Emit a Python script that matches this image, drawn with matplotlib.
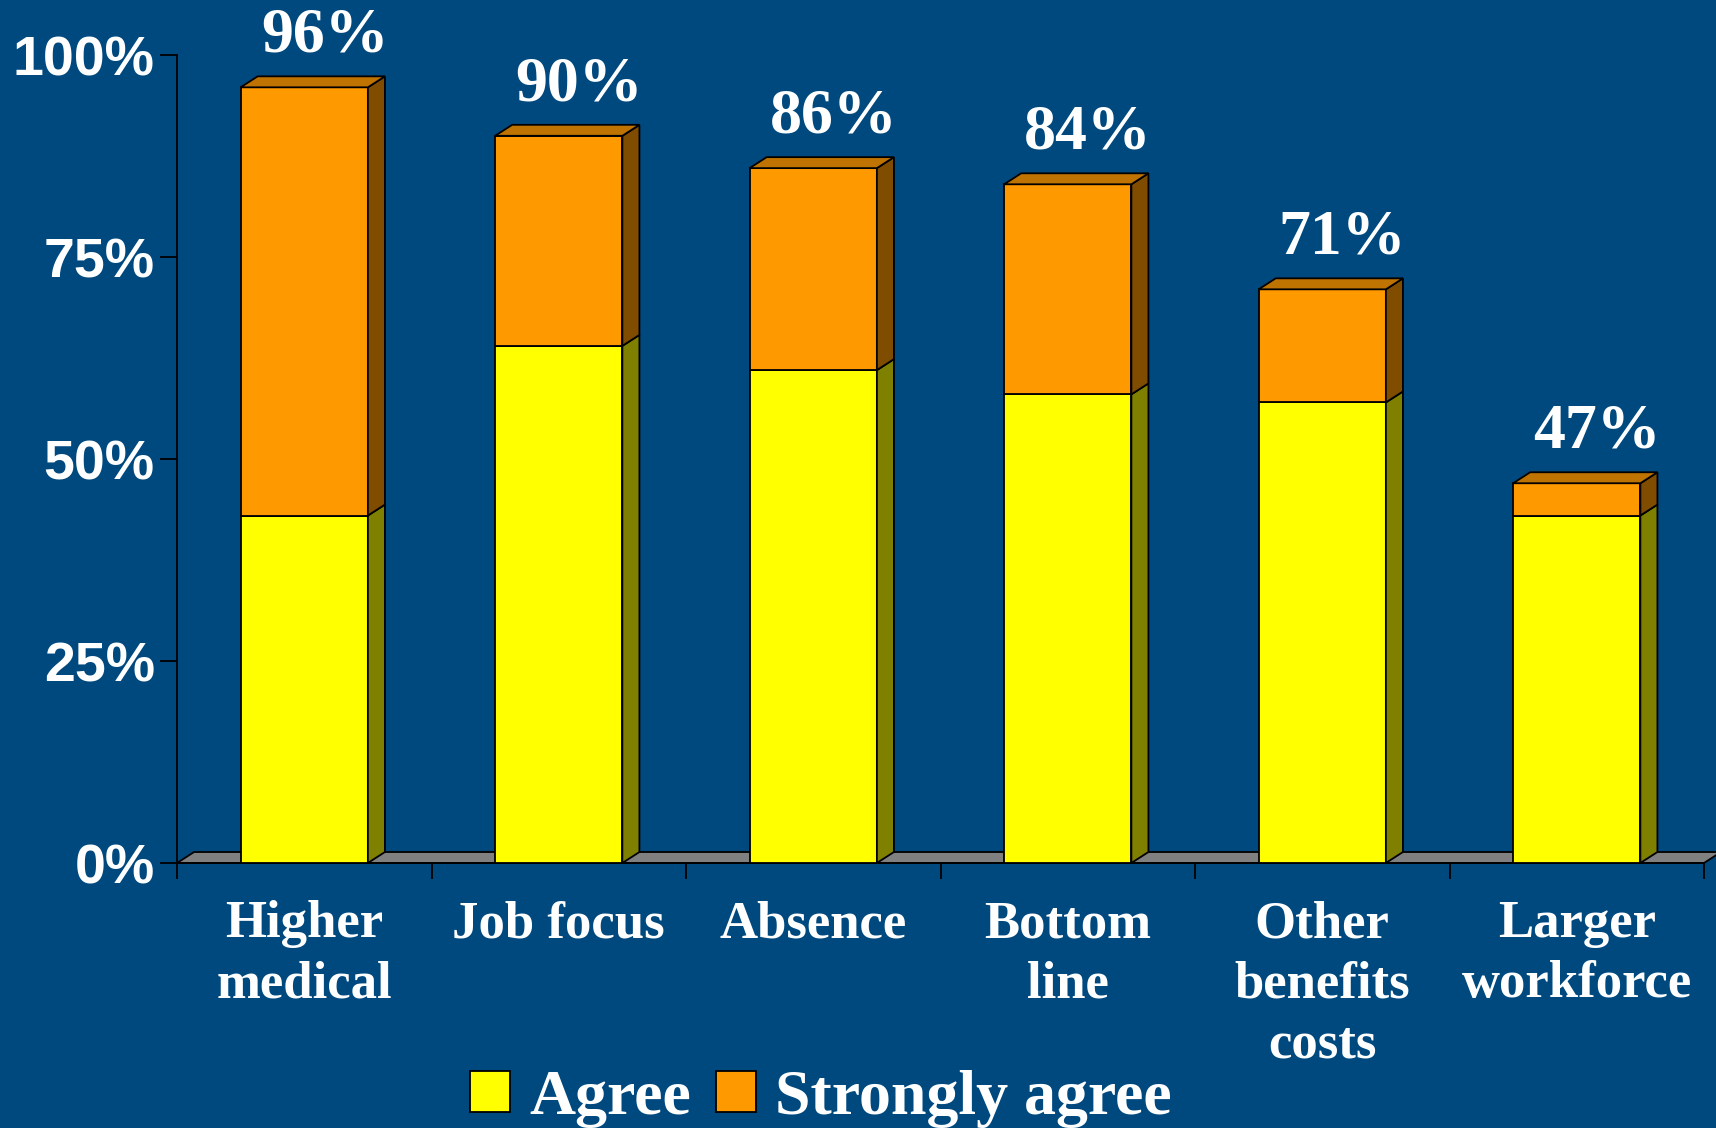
import matplotlib
matplotlib.use("Agg")
import matplotlib.pyplot as plt
from matplotlib.patches import Polygon, Rectangle, Patch

categories = ["Higher\nmedical", "Job focus", "Absence", "Bottom\nline",
              "Other\nbenefits\ncosts", "Larger\nworkforce"]
agree = [43, 64, 61, 58, 57, 43]
strongly_agree = [53, 26, 25, 26, 14, 4]
totals = [96, 90, 86, 84, 71, 47]
y_ticks = [0, 25, 50, 75, 100]
y_tick_labels = ["0%", "25%", "50%", "75%", "100%"]
series_names = ["Agree", "Strongly agree"]

BG = "#00497F"
FRONT = ["#FFFF00", "#FF9900"]
SIDE = ["#808000", "#7F4C00"]
TOP = ["#C0C000", "#BF7300"]
FLOOR = "#808080"

W, H = 1716, 1128
fig = plt.figure(figsize=(W / 100, H / 100), dpi=100, facecolor=BG)
ax = fig.add_axes([177 / W, 1 - 863 / H, (1704 - 177) / W, (863 - 55) / H])
ax.set_facecolor(BG)
ax.set_xlim(0, len(categories))
ax.set_ylim(0, 100)

# 3-D depth offset in data units
dx, dy = 0.067, 1.36
bw = 0.5
lw = 1.3

# floor
n = len(categories)
ax.add_patch(Polygon([(0, 0), (n, 0), (n + dx, dy), (dx, dy)], closed=True,
                     facecolor=FLOOR, edgecolor="black", lw=lw, clip_on=False, zorder=2))

for i in range(n):
    x0 = i + 0.5 - bw / 2
    segs = [(0, agree[i]), (agree[i], agree[i] + strongly_agree[i])]
    for k, (y0, y1) in enumerate(segs):
        ax.add_patch(Rectangle((x0, y0), bw, y1 - y0, facecolor=FRONT[k],
                               edgecolor="black", lw=lw, zorder=3, clip_on=False))
        ax.add_patch(Polygon([(x0 + bw, y0), (x0 + bw + dx, y0 + dy),
                              (x0 + bw + dx, y1 + dy), (x0 + bw, y1)], closed=True,
                             facecolor=SIDE[k], edgecolor="black", lw=lw, zorder=3,
                             clip_on=False))
        if k == len(segs) - 1:
            ax.add_patch(Polygon([(x0, y1), (x0 + dx, y1 + dy), (x0 + bw + dx, y1 + dy),
                                  (x0 + bw, y1)], closed=True, facecolor=TOP[k],
                                 edgecolor="black", lw=lw, zorder=3, clip_on=False))
    ax.text(i + 0.58, totals[i] + 4.4, f"{totals[i]}%", ha="center", va="baseline",
            color="white", fontsize=46, fontweight="bold", family="Liberation Serif",
            clip_on=False, zorder=4)

for s in ["top", "right"]:
    ax.spines[s].set_visible(False)
for s in ["left", "bottom"]:
    ax.spines[s].set_color("black")
    ax.spines[s].set_linewidth(lw)

ax.set_yticks(y_ticks)
ax.set_yticklabels(y_tick_labels, fontsize=40, fontweight="bold",
                   family="Liberation Sans", color="white")
ax.tick_params(axis="y", length=12, width=lw, color="black", pad=4)

ax.set_xticks(range(n + 1))
ax.set_xticklabels([])
ax.tick_params(axis="x", which="major", length=11.5, width=lw, color="black")
ax.set_xticks([i + 0.5 for i in range(n)], minor=True)
ax.set_xticklabels(categories, minor=True, fontsize=38, fontweight="bold",
                   family="Liberation Serif", color="white", va="top",
                   linespacing=1.32)
ax.tick_params(axis="x", which="minor", length=0, pad=27)

handles = [Patch(facecolor=FRONT[k], edgecolor="black", lw=lw) for k in range(2)]
fig.legend(handles, series_names, loc="center", ncol=2, frameon=False,
           bbox_to_anchor=(821 / W, 1 - 1099 / H),
           prop={"family": "Liberation Serif", "weight": "bold", "size": 46},
           labelcolor="white", handlelength=0.62, handleheight=0.6,
           handletextpad=0.3, columnspacing=0.4, borderpad=0, borderaxespad=0)

fig.savefig("out.png", dpi=100, facecolor=BG)
